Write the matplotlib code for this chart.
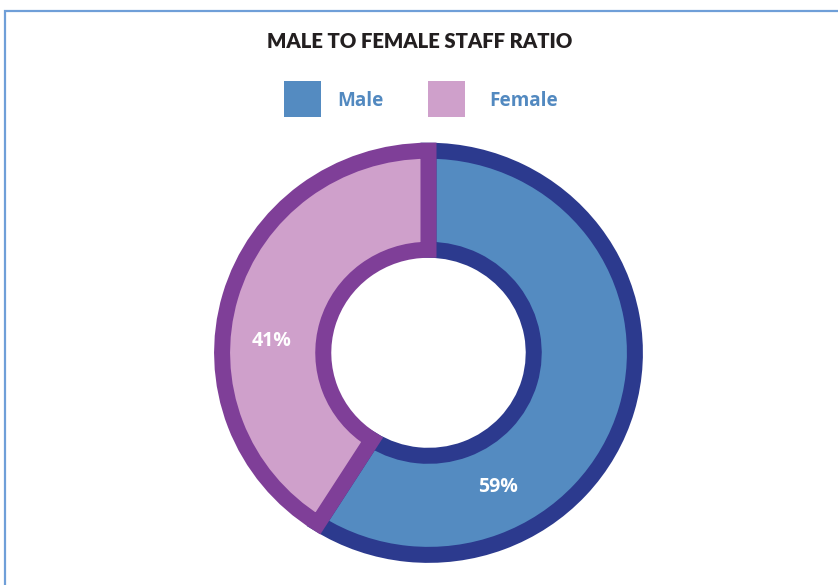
import matplotlib
matplotlib.use("Agg")
import matplotlib.pyplot as plt
from matplotlib.patches import Rectangle
import numpy as np

# ---- data ----
categories = ["Male", "Female"]
values = [59, 41]
pct_labels = ["59%", "41%"]
fill_colors = ["#548bc1", "#cfa0cb"]
edge_colors = ["#2c3a8e", "#7f3f98"]
title = "MALE TO FEMALE STAFF RATIO"
label_angles = [-63.1, 175.6]     # degrees, label placement
label_radius = [0.716, 0.732]

W, H = 838, 585
DPI = 100
fig = plt.figure(figsize=(W / DPI, H / DPI), dpi=DPI)
fig.patch.set_facecolor("white")

def px(x, y):
    """pixel (top-left origin) -> figure fraction"""
    return x / W, 1 - y / H

# frame border
fig.patches.append(Rectangle((5 / W, -0.05), 2.0, (1 - 11 / H) + 0.05,
                             transform=fig.transFigure, fill=False,
                             edgecolor="#6f9fd8", linewidth=1.6))

# donut axes
cx, cy = 428.5, 352.8
rx, ry = 214.5, 210.0
ax = fig.add_axes([(cx - rx) / W, (H - cy - ry) / H, 2 * rx / W, 2 * ry / H])
ax.axis("off")

lw_px = 16
r_out = 1 - (lw_px / 2) / 212.0
r_in = 104 / 212.0
wedges, _ = ax.pie(values, colors=fill_colors, startangle=90, counterclock=False,
                   radius=r_out, wedgeprops=dict(width=r_out - r_in,
                                                 linewidth=lw_px * 72 / DPI,
                                                 joinstyle="miter"))
for w, ec in zip(wedges, edge_colors):
    w.set_edgecolor(ec)
ax.set_aspect("auto")
ax.set_xlim(-1, 1)
ax.set_ylim(-1, 1)

for lab, ang, rr in zip(pct_labels, label_angles, label_radius):
    a = np.deg2rad(ang)
    ax.text(rr * np.cos(a), rr * np.sin(a), lab, color="white", fontsize=14,
            fontweight="bold", family="Open Sans", ha="center", va="center")

# title
tx, ty = px(420, 42)
fig.text(tx, ty, title, ha="center", va="center", fontsize=14.6,
         fontweight="heavy", family="Lato", color="#231f20")

# legend
sq_x = [284, 428]
txt_x = [337, 489]
for c, col, sx, tx_ in zip(categories, fill_colors, sq_x, txt_x):
    x0, y0 = px(sx, 117)
    fig.patches.append(Rectangle((x0, y0), 37 / W, 36 / H,
                                 transform=fig.transFigure,
                                 facecolor=col, edgecolor="none"))
    lx, ly = px(tx_, 101)
    fig.text(lx, ly, c, ha="left", va="center", fontsize=13.6,
             fontweight="bold", family="Open Sans", color="#5289c0")

fig.savefig("out.png", dpi=DPI, facecolor="white")
